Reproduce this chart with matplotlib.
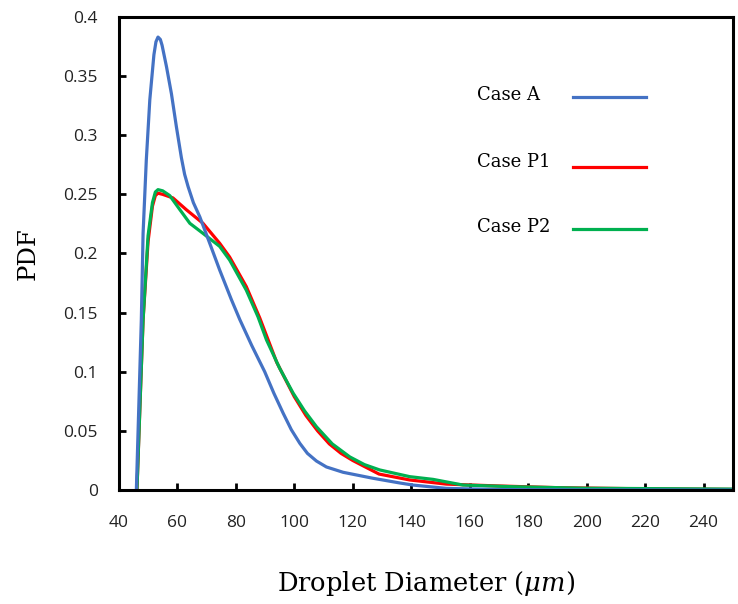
import matplotlib
matplotlib.use("Agg")
from matplotlib import pyplot as plt

# Case A (blue)
case_a_x = [46, 47.7, 48.3, 49.4, 50.6, 52, 52.7, 53.4, 54.2, 54.8, 56.3, 58, 59.7, 61.4, 62.5,
            63.7, 65.5, 67.7, 71.1, 74.5, 78.5, 81.4, 85.5, 89.9, 93, 96.2, 99, 101.9, 104.5,
            107.6, 111, 116.7, 126.8, 136, 140.6, 152, 170, 200, 250]
case_a_y = [0, 0.144, 0.217, 0.279, 0.33, 0.368, 0.379, 0.383, 0.381, 0.376, 0.358, 0.335, 0.307,
            0.281, 0.267, 0.2565, 0.243, 0.231, 0.2086, 0.186, 0.161, 0.144, 0.122, 0.1, 0.082,
            0.065, 0.051, 0.0395, 0.031, 0.0245, 0.0195, 0.0150, 0.010, 0.006, 0.0042, 0.0014,
            0.0004, 0.0001, 0.0]

# Case P1 (red)
case_p1_x = [46.2, 47.5, 48.3, 50, 51.5, 52.5, 53.4, 55, 58.5, 63.1, 68.8, 74.5, 77.9, 83.6, 88.2,
             94, 100, 104, 108, 112, 116, 120, 129, 139.5, 152, 169, 190, 220, 250]
case_p1_y = [0, 0.09, 0.144, 0.21, 0.24, 0.249, 0.251, 0.250, 0.247, 0.237, 0.2255, 0.2086, 0.197,
             0.172, 0.1455, 0.108, 0.079, 0.063, 0.050, 0.039, 0.031, 0.025, 0.0135, 0.0085,
             0.005, 0.0035, 0.002, 0.001, 0.0005]

# Case P2 (green)
case_p2_x = [46.2, 47.5, 48.3, 50, 51.5, 52.5, 53.4, 55, 57.4, 60.9, 64.3, 68.8, 74.5, 77.9, 83.6,
             87.6, 90.5, 95, 99.6, 103.5, 107.6, 113, 119, 124, 129.2, 139.5, 147.5, 157.7, 174.7,
             200, 250]
case_p2_y = [0, 0.09, 0.144, 0.215, 0.243, 0.252, 0.254, 0.253, 0.249, 0.237, 0.2255, 0.217, 0.206,
             0.1945, 0.169, 0.1465, 0.127, 0.103, 0.082, 0.067, 0.0535, 0.039, 0.028, 0.0215,
             0.017, 0.0113, 0.009, 0.0042, 0.0028, 0.0015, 0.0008]

x_ticks = list(range(40, 241, 20))
y_ticks = [0, 0.05, 0.1, 0.15, 0.2, 0.25, 0.3, 0.35, 0.4]
y_tick_labels = ['0', '0.05', '0.1', '0.15', '0.2', '0.25', '0.3', '0.35', '0.4']

BLUE = '#4472C4'
RED = '#FF0000'
GREEN = '#00B050'
SERIF = 'DejaVu Serif'
SANS = 'Open Sans'

plt.rcParams['mathtext.fontset'] = 'dejavuserif'

fig = plt.figure(figsize=(7.38, 6.04), dpi=100)
ax = fig.add_axes([0.161, 0.1887, 0.832, 0.7832])

ax.plot(case_p1_x, case_p1_y, color=RED, lw=2.3, solid_capstyle='round')
ax.plot(case_p2_x, case_p2_y, color=GREEN, lw=2.3, solid_capstyle='round')
ax.plot(case_a_x, case_a_y, color=BLUE, lw=2.3, solid_capstyle='round')

ax.set_xlim(40, 250)
ax.set_ylim(0, 0.4)
ax.set_xticks(x_ticks)
ax.set_yticks(y_ticks)
ax.set_yticklabels(y_tick_labels)
for lab in ax.get_xticklabels() + ax.get_yticklabels():
    lab.set_fontfamily(SANS)
    lab.set_fontsize(12.5)
    lab.set_color('#222222')
ax.tick_params(direction='in', length=5, width=2)
ax.tick_params(axis='x', pad=18)
ax.tick_params(axis='y', pad=15)
for s in ax.spines.values():
    s.set_linewidth(2.2)

ax.set_xlabel(r'Droplet Diameter ($\mathit{\mu m}$)', family=SERIF, fontsize=18.5, va='center')
ax.set_ylabel('PDF', family=SERIF, fontsize=17.5, va='center')
ax.xaxis.set_label_coords(0.5, -0.197)
ax.yaxis.set_label_coords(-0.148, 0.5)

# legend drawn by hand like the original
entries = [('Case A', BLUE, 0.835, 0.831),
           ('Case P1', RED, 0.693, 0.683),
           ('Case P2', GREEN, 0.556, 0.552)]
for name, col, ty, ly in entries:
    ax.text(0.583, ty, name, transform=ax.transAxes, family=SERIF, fontsize=13,
            ha='left', va='center')
    ax.plot([0.739, 0.858], [ly, ly], transform=ax.transAxes, color=col, lw=2.3)

fig.savefig('out.png', dpi=100)
